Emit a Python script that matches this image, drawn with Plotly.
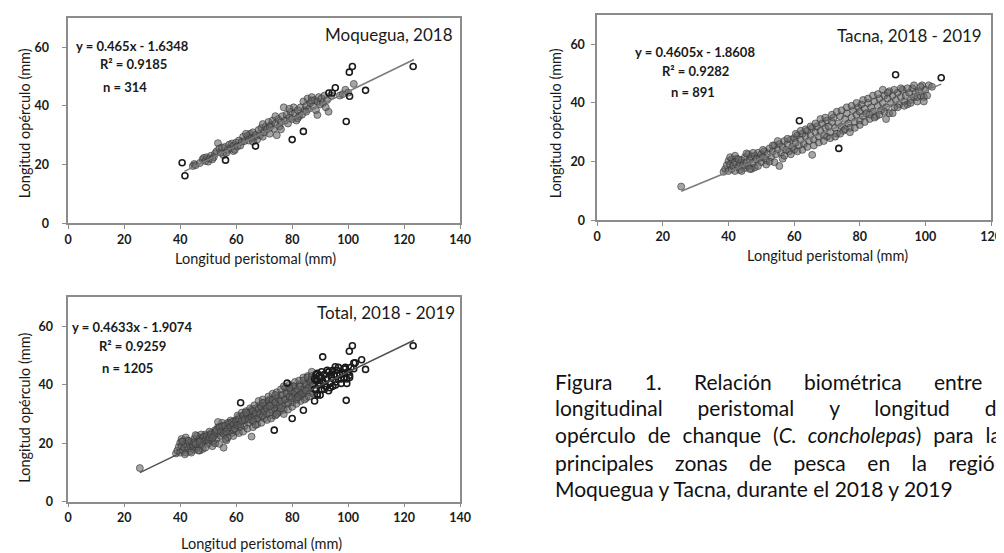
import plotly.graph_objects as go

W, H = 1004, 553
FONT = "Lato"

# ------------------------------------------------------------------ data
x_ticks = [0, 20, 40, 60, 80, 100, 120, 140]
x_ticks_tacna = [0, 20, 40, 60, 80, 100, 120]
y_ticks = [0, 20, 40, 60]

# Moquegua, 2018 (gray cloud)
moq_pts = [
    (44.5, 19.5), (45, 20.2), (45.5, 19.8), (48, 21.8), (48.5, 22.3), (49, 21.2), (49.5, 22.5),
    (50, 21.0), (50.5, 22.0), (51, 23.0), (52, 22.5), (52.5, 23.8), (53, 24.5), (53.5, 27.3),
    (54, 25.5), (54.5, 24.0), (55, 25.8), (55.5, 23.2), (56, 26.0), (57, 25.0), (57.5, 26.8),
    (58, 25.5), (58.5, 27.2), (59, 26.4), (59, 24.6), (59.5, 25.0), (60, 27.5), (60.5, 26.2),
    (61, 28.2), (61.5, 26.5), (62, 27.8), (62.5, 29.5), (63, 28.0), (64, 29.8), (64.5, 28.2),
    (65, 30.5), (65.5, 29.0), (66, 31.0), (66.5, 29.3), (67, 30.2), (67.5, 28.5), (68, 31.8),
    (68.5, 30.0), (69, 32.5), (69.5, 29.5), (70, 31.0), (70.5, 33.0), (71, 32.0), (71.5, 34.5),
    (72, 30.5), (72.5, 33.5), (73, 35.0), (73.5, 32.2), (74, 34.0), (74.5, 30.0), (75, 35.5),
    (75.5, 33.0), (76, 34.5), (76.5, 36.5), (77, 39.5), (77.5, 35.0), (78, 37.0), (78.5, 34.0),
    (79, 36.0), (79.5, 38.0), (80, 35.5), (80.5, 39.5), (81, 37.5), (81.5, 35.0), (82, 38.5),
    (82.5, 36.5), (83, 39.5), (83.5, 37.0), (84, 41.5), (84.5, 38.5), (85, 40.0), (85.5, 42.5),
    (86, 39.0), (86.5, 41.0), (87, 43.0), (87.5, 40.0), (88, 42.0), (88.5, 38.5), (89, 41.5),
    (89, 36.9), (89.5, 43.0), (90, 40.5), (90.5, 42.5), (91, 41.0), (91.5, 43.5), (92, 39.5),
    (92.5, 42.0), (93, 38.0), (94, 43.5), (97, 43.5), (98, 44.0), (99, 45.5), (100, 44.5),
    (102, 47.5), (47, 20.5), (51.5, 21.8), (56.5, 24.0), (63.5, 30.5), (66, 27.8), (69.5, 33.8),
    (72, 32.8), (74, 36.5), (76, 32.0), (79, 39.0), (82, 35.8), (85, 38.0), (87, 41.8),
]
moq_out = [
    (40.7, 20.6), (41.7, 16.2), (56.2, 21.5), (66.9, 26.3), (80.0, 28.5), (84.0, 31.3),
    (93.1, 44.4), (94.3, 44.4), (95.4, 46.2), (99.3, 34.7), (100.4, 51.5), (101.5, 53.4),
    (100.5, 43.3), (106.2, 45.3), (123.2, 53.4),
]
moq_trend_x = [41.5, 123.5]
moq_trend_y = [17.7, 55.8]

# Tacna, 2018 - 2019 (gray cloud)
tac_pts = [
    (25.6, 11.5),
    (38.5, 16.5), (39, 17.5), (39.5, 18.8), (40, 20.2), (40, 16.8), (40.5, 19.0), (41, 20.8),
    (41, 17.5), (41.5, 18.5), (42, 19.8), (42, 16.8), (42.5, 21.0), (43, 18.2), (43.5, 19.5),
    (43.5, 17.2), (44, 20.5), (44.5, 18.8), (45, 21.5), (45, 17.8), (45.5, 19.8), (46, 22.5),
    (46, 18.5), (46.5, 20.5), (47, 17.5), (47, 21.8), (47.5, 19.5), (48, 18.0), (48, 22.0),
    (48.5, 20.8), (49, 23.0), (49.5, 21.2), (50, 19.8), (50, 22.5), (50.5, 21.5), (51, 23.5),
    (51.5, 20.5), (52, 22.8), (52.5, 24.5), (53, 21.5), (53.5, 23.5), (54, 25.5), (54.5, 22.5),
    (55, 24.2), (55.5, 18.5), (55.5, 26.0), (56, 23.0), (56.5, 25.0), (57, 27.0), (57.5, 24.0),
    (58, 26.0), (58.5, 23.5), (59, 27.5), (59.5, 25.0), (60, 28.0), (60, 24.0), (60.5, 26.5),
    (61, 29.0), (61.5, 25.5), (62, 27.5), (62.5, 29.5), (63, 26.0), (63.5, 28.5), (64, 30.5),
    (64.5, 27.0), (65, 29.0), (65.5, 22.3), (65.5, 31.5), (66, 27.5), (66.5, 30.0), (67, 32.0),
    (67.5, 28.5), (68, 30.5), (68.5, 33.0), (69, 29.0), (69.5, 31.5), (70, 34.0), (70, 28.5),
    (70.5, 32.0), (71, 30.0), (71.5, 33.5), (72, 35.0), (72.5, 31.5), (73, 29.5), (73.5, 33.0),
    (74, 35.5), (74.5, 32.0), (75, 30.5), (75.5, 34.5), (76, 36.5), (76.5, 33.0), (77, 31.5),
    (77.5, 35.0), (78, 37.5), (78.5, 33.5), (79, 36.0), (79.5, 38.5), (80, 34.0), (80, 37.0),
    (80.5, 39.5), (81, 35.5), (81.5, 38.0), (82, 36.5), (82.5, 40.0), (83, 34.5), (83.5, 38.5),
    (84, 37.0), (84.5, 40.5), (85, 35.5), (85.5, 39.0), (86, 41.5), (86.5, 37.5), (87, 40.0),
    (87.5, 42.5), (88, 34.5), (88, 38.5), (88.5, 41.5), (89, 44.0), (89, 36.5), (89.5, 40.0),
    (90, 42.5), (90.5, 38.5), (91, 41.0), (91.5, 43.5), (92, 39.5), (92.5, 42.0), (93, 44.5),
    (93.5, 40.5), (94, 42.5), (94.5, 39.5), (95, 43.5), (95.5, 41.0), (96, 45.0), (96.5, 42.0),
    (97, 43.5), (97.5, 40.5), (98, 44.0), (98.5, 42.5), (99, 46.0), (99.5, 42.0), (100, 44.5),
    (101, 46.0), (102, 45.5),
    (40.5, 21.5), (42, 22.0), (43, 20.8), (44, 16.8), (45.5, 22.8), (46.5, 17.5), (47.5, 23.0),
    (49, 18.5), (50.5, 24.0), (51.5, 19.0), (52.5, 20.0), (53.5, 25.5), (54, 19.8), (55, 27.0),
    (56.5, 21.0), (57, 22.0), (58, 27.8), (59, 22.5), (60.5, 29.5), (61, 23.5), (62, 30.5),
    (62.5, 24.0), (63.5, 31.0), (64, 25.0), (65, 32.0), (66, 25.5), (66.5, 33.0), (67.5, 26.5),
    (68, 34.5), (69, 27.0), (69.5, 35.0), (71, 28.0), (71.5, 36.0), (72.5, 28.5), (73, 37.0),
    (74, 29.5), (74.5, 37.5), (75.5, 31.0), (76, 38.5), (77, 30.0), (77.5, 39.0), (78.5, 31.5),
    (79, 40.0), (80, 32.5), (81, 41.0), (81.5, 33.5), (82.5, 41.5), (83, 36.0), (84, 42.5),
    (84.5, 35.0), (85.5, 43.0), (86, 36.0), (87, 44.5), (87.5, 37.0), (88.5, 43.5), (90, 36.5),
    (90.5, 44.5), (91.5, 38.5), (92.5, 45.0), (93.5, 39.0), (94.5, 45.0), (95.5, 40.0),
    (96.5, 46.0), (97.5, 42.0), (98.5, 45.5), (99.5, 40.5), (100.5, 42.5),
]
tac_out = [(61.6, 33.9), (73.6, 24.5), (90.9, 49.6), (104.8, 48.6)]
tac_trend_x = [25.6, 104.8]
tac_trend_y = [9.9, 46.4]

# Total, 2018 - 2019
tot_extra_dark = [(78.2, 40.6), (102.5, 47.6)]
tot_dark_from_x = 88
tot_moq_out_from_x = 70
tot_trend_x = [25.6, 123.5]
tot_trend_y = [9.95, 55.3]

equations = [
    ("y = 0.465x - 1.6348", "R\u00b2 = 0.9185", "n = 314", "Moquegua, 2018"),
    ("y = 0.4605x - 1.8608", "R\u00b2 = 0.9282", "n = 891", "Tacna, 2018 - 2019"),
    ("y = 0.4633x - 1.9074", "R\u00b2 = 0.9259", "n = 1205", "Total, 2018 - 2019"),
]
x_title = "Longitud peristomal (mm)"
y_title = "Longitud opérculo (mm)"

caption_lines = [
    ["Figura", "1.", "Relación", "biométrica", "entre"],
    ["longitudinal", "peristomal", "y", "longitud", "de"],
    ["opérculo", "de", "chanque", "(<i>C.", "concholepas</i>)", "para", "las"],
    ["principales", "zonas", "de", "pesca", "en", "la", "región"],
    ["Moquegua", "y", "Tacna,", "durante", "el", "2018", "y", "2019"],
]

# ------------------------------------------------------------------ helpers
def px(x):
    return x / W


def py(y):
    return 1 - y / H


def xs(pts):
    return [p[0] for p in pts]


def ys(pts):
    return [p[1] for p in pts]


GRAY_MARK = dict(symbol="circle", size=7, color="rgba(100,100,100,0.58)",
                 line=dict(color="rgba(50,50,50,0.6)", width=1))
DARK_MARK = dict(symbol="circle-open", size=6, color="#1a1a1a", line=dict(width=1.6))

fig = go.Figure()

# panel 1: Moquegua
fig.add_trace(go.Scatter(x=xs(moq_pts), y=ys(moq_pts), mode="markers", marker=GRAY_MARK,
                         xaxis="x", yaxis="y"))
fig.add_trace(go.Scatter(x=xs(moq_out), y=ys(moq_out), mode="markers", marker=DARK_MARK,
                         xaxis="x", yaxis="y"))
fig.add_trace(go.Scatter(x=moq_trend_x, y=moq_trend_y, mode="lines",
                         line=dict(color="#7a7a7a", width=1.5), xaxis="x", yaxis="y"))

# panel 2: Tacna
fig.add_trace(go.Scatter(x=xs(tac_pts), y=ys(tac_pts), mode="markers", marker=GRAY_MARK,
                         xaxis="x2", yaxis="y2"))
fig.add_trace(go.Scatter(x=xs(tac_out), y=ys(tac_out), mode="markers", marker=DARK_MARK,
                         xaxis="x2", yaxis="y2"))
fig.add_trace(go.Scatter(x=tac_trend_x, y=tac_trend_y, mode="lines",
                         line=dict(color="#7a7a7a", width=1.5), xaxis="x2", yaxis="y2"))

# panel 3: Total (union of both samples)
moq_out_low = [p for p in moq_out if p[0] < tot_moq_out_from_x]
moq_out_high = [p for p in moq_out if p[0] >= tot_moq_out_from_x]
all_pts = tac_pts + moq_pts + moq_out_low
tot_gray = [p for p in all_pts if p[0] < tot_dark_from_x]
tot_dark = [p for p in all_pts if p[0] >= tot_dark_from_x] + moq_out_high + tac_out + tot_extra_dark
fig.add_trace(go.Scatter(x=xs(tot_gray), y=ys(tot_gray), mode="markers", marker=GRAY_MARK,
                         xaxis="x3", yaxis="y3"))
fig.add_trace(go.Scatter(x=xs(tot_dark), y=ys(tot_dark), mode="markers", marker=DARK_MARK,
                         xaxis="x3", yaxis="y3"))
fig.add_trace(go.Scatter(x=tot_trend_x, y=tot_trend_y, mode="lines",
                         line=dict(color="#505050", width=1.5), xaxis="x3", yaxis="y3"))

# ------------------------------------------------------------------ axes
TICKFONT = dict(family=FONT, size=12.5, color="#1a1a1a", weight="bold")


def xaxis(domain, rng, ticks, anchor):
    return dict(domain=domain, range=rng, tickvals=ticks, anchor=anchor,
                showgrid=False, zeroline=False, showline=True, mirror=True,
                linecolor="#8c8c8c", linewidth=1.5, ticks="outside", ticklen=4,
                tickcolor="#8c8c8c", tickwidth=1.2, ticklabelstandoff=0,
                tickfont=TICKFONT, fixedrange=True)


def yaxis(domain, ticks, anchor, standoff):
    return dict(domain=domain, range=[0, 70], tickvals=ticks, anchor=anchor,
                showgrid=False, zeroline=False, showline=True, mirror=True,
                linecolor="#8c8c8c", linewidth=1.5, ticks="outside", ticklen=4,
                tickcolor="#8c8c8c", tickwidth=1.2, ticklabelstandoff=standoff,
                tickfont=TICKFONT, fixedrange=True)


layout = dict(
    width=W, height=H, margin=dict(l=0, r=0, t=0, b=0),
    paper_bgcolor="white", plot_bgcolor="white", showlegend=False,
    xaxis=xaxis([px(57), px(455)], [0, 140], x_ticks, "y"),
    yaxis=yaxis([py(218), py(10)], y_ticks, "x", 11),
    xaxis2=xaxis([px(594), px(994)], [0, 120], x_ticks_tacna, "y2"),
    yaxis2=yaxis([py(215), py(7)], y_ticks, "x2", 4),
    xaxis3=xaxis([px(57), px(455)], [0, 140], x_ticks, "y3"),
    yaxis3=yaxis([py(500), py(293)], y_ticks, "x3", 7),
)

ann = []


def text(t, x, y, size, xanchor="left", angle=0, color="#1a1a1a", weight="normal"):
    ann.append(dict(text=t, x=px(x), y=py(y), xref="paper", yref="paper",
                    xanchor=xanchor, yanchor="middle", showarrow=False, textangle=angle,
                    font=dict(family=FONT, size=size, color=color, weight=weight)))


# panel texts: (eq_x, eq_y, r2_x, r2_y, n_x, n_y, title_right, title_y, ytitle_x, ytitle_y, xtitle_x, xtitle_y)
panel_pos = [
    (63, 38, 87, 57, 90, 80, 450, 27, 13, 117, 247, 254),
    (630, 45, 658, 64, 667, 85, 987, 28, 552, 117, 828, 251),
    (59, 323, 86, 342, 89, 365, 452, 308, 13, 405, 253, 542),
]
for (eq, r2, n, title), p in zip(equations, panel_pos):
    text(eq, p[0], p[1], 13, weight="bold")
    text(r2, p[2], p[3], 13, weight="bold")
    text(n, p[4], p[5], 13, weight="bold")
    text(title, p[6], p[7], 17, xanchor="right")
    text(y_title, p[8], p[9], 14.5, xanchor="center", angle=-90)
    text(x_title, p[10], p[11], 14.5, xanchor="center")

# caption (justified lines emulated with non-breaking / thin / hair spaces)
NB = "\u00a0"
TH = "\u2009"
HA = "\u200a"
gap_strings = [NB * 6, NB * 6 + TH, NB * 2 + HA, NB * 4, NB]
line_y = [378, 405, 432, 460, 487]
for words, gs, yy in zip(caption_lines, gap_strings, line_y):
    text(gs.join(words), 549, yy, 21, color="#111111")

layout["annotations"] = ann
fig.update_layout(**layout)
fig.write_html("out.html")
